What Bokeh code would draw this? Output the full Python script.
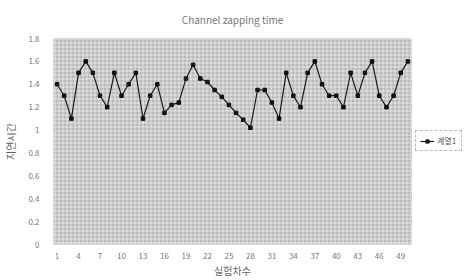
from bokeh.plotting import figure
from bokeh.layouts import row
from bokeh.models import (Range1d, FixedTicker, BoxAnnotation, Legend, LegendItem)
from bokeh.embed import file_html
from bokeh.resources import INLINE

title_text = "Channel zapping time"
x_label = "실험차수"
y_label = "지연시간"
series_name = "계열1"

trials = list(range(1, 51))
delays = [1.40, 1.30, 1.10, 1.50, 1.60, 1.50, 1.30, 1.20, 1.50, 1.30,
          1.40, 1.50, 1.10, 1.30, 1.40, 1.15, 1.22, 1.24, 1.45, 1.57,
          1.45, 1.42, 1.35, 1.29, 1.22, 1.15, 1.09, 1.02, 1.35, 1.35,
          1.24, 1.10, 1.50, 1.30, 1.20, 1.50, 1.60, 1.40, 1.30, 1.30,
          1.20, 1.50, 1.30, 1.50, 1.60, 1.30, 1.20, 1.30, 1.50, 1.60]
x_ticks = list(range(1, 51, 3))
y_ticks = [0, 0.2, 0.4, 0.6, 0.8, 1.0, 1.2, 1.4, 1.6, 1.8]
y_tick_labels = ["0", "0.2", "0.4", "0.6", "0.8", "1", "1.2", "1.4", "1.6", "1.8"]

FONT = "Noto Sans CJK KR"

p = figure(width=415, height=280, output_backend="svg", toolbar_location=None,
           x_range=Range1d(0.5, 50.5), y_range=Range1d(0, 1.8),
           min_border_left=50, min_border_right=4, min_border_top=38,
           min_border_bottom=36)
p.outline_line_color = None
p.background_fill_color = "#bababa"

p.add_layout(BoxAnnotation(fill_color="#bababa", fill_alpha=1.0, line_color=None,
                           hatch_pattern="+", hatch_scale=4, hatch_color="white",
                           hatch_alpha=0.55, hatch_weight=1, level="underlay"))

p.title.text = title_text
p.title.align = "center"
p.title.vertical_align = "top"
p.title.text_font = FONT
p.title.text_font_size = "10px"
p.title.text_font_style = "normal"
p.title.text_color = "#777777"
p.title.standoff = 20

p.xgrid.grid_line_color = None
p.ygrid.ticker = FixedTicker(ticks=y_ticks)
p.ygrid.grid_line_color = "#2a2a2a"
p.ygrid.grid_line_width = 1.3

p.xaxis.ticker = FixedTicker(ticks=x_ticks)
p.yaxis.ticker = FixedTicker(ticks=y_ticks)
p.yaxis.major_label_overrides = {t: l for t, l in zip(y_ticks, y_tick_labels)}
for ax in (p.xaxis, p.yaxis):
    ax.axis_line_color = None
    ax.major_tick_line_color = None
    ax.minor_tick_line_color = None
    ax.major_tick_out = 0
    ax.major_tick_in = 0
    ax.major_label_text_font = FONT
    ax.major_label_text_font_size = "8px"
    ax.major_label_text_color = "#777777"
    ax.axis_label_text_font = FONT
    ax.axis_label_text_font_size = "10px"
    ax.axis_label_text_font_style = "normal"
    ax.axis_label_text_color = "#666666"
p.xaxis.major_label_text_line_height = 1.0
p.xaxis.axis_label_text_line_height = 1.0
p.xaxis.major_label_standoff = 8
p.yaxis.major_label_standoff = 14
p.xaxis.axis_label = x_label
p.yaxis.axis_label = y_label
p.xaxis.axis_label_standoff = 1
p.yaxis.axis_label_standoff = 7

p.line(trials, delays, line_color="#1a1a1a", line_width=1.2)
p.scatter(trials, delays, marker="square", size=3.5, fill_color="#111111",
          line_color="#111111")

# separate narrow figure that only holds the legend box
legend_x = [5, 6]
legend_y = [5, 5]
q = figure(width=54, height=280, output_backend="svg", toolbar_location=None,
           x_range=Range1d(0, 1), y_range=Range1d(0, 1),
           min_border=0)
q.outline_line_color = None
q.axis.visible = False
q.grid.visible = False
lq = q.line(legend_x, legend_y, line_color="#1a1a1a", line_width=1.2)
mq = q.scatter(legend_x, legend_y, marker="square", size=3.5, fill_color="#111111",
               line_color="#111111")
legend = Legend(items=[LegendItem(label=series_name, renderers=[lq, mq])],
                location=(0, 93), orientation="vertical",
                label_text_font=FONT, label_text_font_size="8px",
                label_text_color="#555555", glyph_width=14, glyph_height=8,
                label_height=8, label_standoff=3, padding=4, margin=0, spacing=0,
                border_line_color="#777777", border_line_dash="2 1",
                background_fill_color="white", background_fill_alpha=1.0)
q.add_layout(legend, "center")

layout = row(p, q)
open("out.html", "w").write(file_html(layout, INLINE))
